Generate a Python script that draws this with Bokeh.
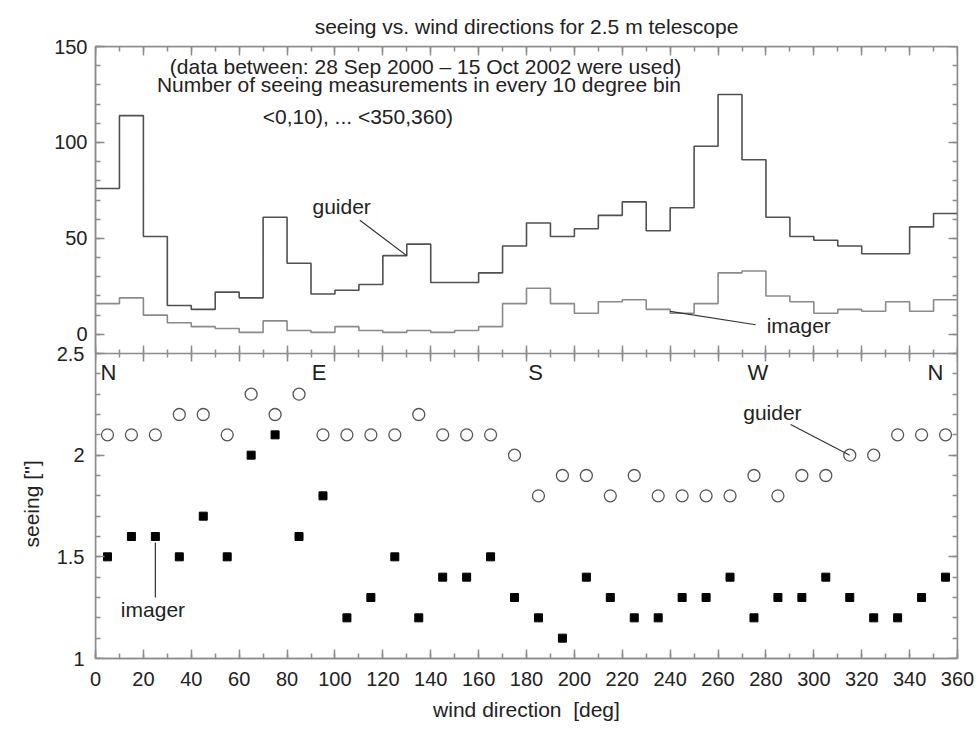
import numpy as np
from bokeh.plotting import figure
from bokeh.models import Range1d, LinearAxis, FixedTicker, Label, Title, CustomJSTickFormatter
from bokeh.embed import file_html
from bokeh.resources import INLINE

# ---------------- data ----------------
bin_left = list(range(0, 360, 10))          # 10-degree bins <0,10) ... <350,360)
bin_center = [b + 5 for b in bin_left]
guider_counts = [76, 114, 51, 15, 13, 22, 19, 61, 37, 21, 23, 26, 41, 47, 27, 27, 32, 46,
                 58, 51, 55, 62, 69, 54, 66, 98, 125, 91, 61, 51, 49, 46, 42, 42, 56, 63]
imager_counts = [16, 19, 10, 6, 4, 3, 1, 7, 2, 1, 4, 2, 1, 2, 1, 2, 4, 16,
                 24, 16, 11, 17, 18, 13, 11, 16, 32, 33, 20, 17, 11, 13, 12, 17, 12, 18]
guider_seeing = [2.1, 2.1, 2.1, 2.2, 2.2, 2.1, 2.3, 2.2, 2.3, 2.1, 2.1, 2.1, 2.1, 2.2, 2.1, 2.1, 2.1, 2.0,
                 1.8, 1.9, 1.9, 1.8, 1.9, 1.8, 1.8, 1.8, 1.8, 1.9, 1.8, 1.9, 1.9, 2.0, 2.0, 2.1, 2.1, 2.1]
imager_seeing = [1.5, 1.6, 1.6, 1.5, 1.7, 1.5, 2.0, 2.1, 1.6, 1.8, 1.2, 1.3, 1.5, 1.2, 1.4, 1.4, 1.5, 1.3,
                 1.2, 1.1, 1.4, 1.3, 1.2, 1.2, 1.3, 1.3, 1.4, 1.2, 1.3, 1.3, 1.4, 1.3, 1.2, 1.2, 1.3, 1.4]

dir_ticks = list(range(0, 361, 20))
dir_minor = list(range(0, 361, 10))
count_ticks = [0, 50, 100, 150]
count_minor = list(range(0, 151, 10))
seeing_ticks = [1, 1.5, 2, 2.5]
seeing_minor = [round(v, 1) for v in np.arange(1.0, 2.51, 0.1)]
compass_labels = ["N", "E", "S", "W", "N"]
compass_deg = [0, 90, 180, 270, 360]

# ---------------- style / geometry ----------------
FONT = "Liberation Sans"
AX = "#8c8c8c"
TXT = "#222222"
TOP_H, BOT_H = 307, 305                   # pixel heights of the two stacked panels
seeing_lo, seeing_hi = 1.0, 2.5
count_lo, count_hi = -10, 150
y_end = seeing_lo + (seeing_hi - seeing_lo) * (TOP_H + BOT_H) / BOT_H
count_start = count_lo - (count_hi - count_lo) * BOT_H / TOP_H

p = figure(width=975, height=729, output_backend="svg", toolbar_location=None,
           x_range=Range1d(0, 360), y_range=Range1d(seeing_lo, y_end),
           min_border_left=95, min_border_right=18, min_border_top=46, min_border_bottom=71,
           x_axis_type=None, y_axis_type=None,
           title="seeing vs. wind directions for 2.5 m telescope")
p.extra_y_ranges = {"top": Range1d(count_start, count_hi)}
p.outline_line_color = AX
p.outline_line_width = 1.5
p.background_fill_color = "white"
p.border_fill_color = "white"

p.title.text_font = FONT
p.title.text_font_size = "21px"
p.title.text_font_style = "normal"
p.title.text_color = TXT
p.title.align = "center"
p.title.standoff = 17

seeing_fmt = CustomJSTickFormatter(code="return tick.toString()")


def style_axis(ax, labels=True, major_in=9, major_out=0, minor_in=5, minor_out=0):
    ax.axis_line_color = AX
    ax.axis_line_width = 1.5
    ax.major_tick_line_color = AX
    ax.minor_tick_line_color = AX
    ax.major_tick_line_width = 1.5
    ax.minor_tick_line_width = 1.5
    ax.major_tick_in = major_in
    ax.major_tick_out = major_out
    ax.minor_tick_in = minor_in
    ax.minor_tick_out = minor_out
    ax.major_label_text_font = FONT
    ax.major_label_text_font_size = "20px"
    ax.major_label_text_color = TXT if labels else None
    ax.axis_label_text_font = FONT
    ax.axis_label_text_font_size = "21px"
    ax.axis_label_text_font_style = "normal"
    ax.axis_label_text_color = TXT
    return ax


# left, inner: counts of the upper panel (ticks + labels)
ax_l_count = LinearAxis(ticker=FixedTicker(ticks=count_ticks, minor_ticks=count_minor),
                        y_range_name="top", bounds=(count_lo, count_hi))
style_axis(ax_l_count)
ax_l_count.major_label_standoff = 8
p.add_layout(ax_l_count, "left")

# left, outer: labels of the seeing scale, pulled in next to the frame
ax_l_seeing_lab = LinearAxis(ticker=FixedTicker(ticks=seeing_ticks, minor_ticks=[]),
                             formatter=seeing_fmt, bounds=(seeing_lo, seeing_hi))
style_axis(ax_l_seeing_lab, major_in=0, minor_in=0)
ax_l_seeing_lab.axis_line_color = None
ax_l_seeing_lab.major_tick_line_color = None
ax_l_seeing_lab.minor_tick_line_color = None
ax_l_seeing_lab.major_label_standoff = -33
p.add_layout(ax_l_seeing_lab, "left")

# y title of the seeing panel
p.add_layout(Title(text="seeing ['']", align="left", offset=111, standoff=18,
                   text_font=FONT, text_font_size="21px", text_font_style="normal",
                   text_color=TXT), "left")

# left: seeing ticks on the frame edge
ax_l_seeing = LinearAxis(ticker=FixedTicker(ticks=seeing_ticks, minor_ticks=seeing_minor),
                         bounds=(seeing_lo, seeing_hi), fixed_location=0)
style_axis(ax_l_seeing, labels=False)
p.add_layout(ax_l_seeing, "left")

# right side ticks
ax_r_seeing = LinearAxis(ticker=FixedTicker(ticks=seeing_ticks, minor_ticks=seeing_minor),
                         bounds=(seeing_lo, seeing_hi), fixed_location=360)
style_axis(ax_r_seeing, labels=False)
p.add_layout(ax_r_seeing, "right")
ax_r_count = LinearAxis(ticker=FixedTicker(ticks=count_ticks, minor_ticks=count_minor),
                        y_range_name="top", bounds=(count_lo, count_hi), fixed_location=360)
style_axis(ax_r_count, labels=False)
p.add_layout(ax_r_count, "right")

# bottom: wind direction
ax_b = LinearAxis(ticker=FixedTicker(ticks=dir_ticks, minor_ticks=dir_minor),
                  axis_label="wind direction\u00a0 [deg]")
style_axis(ax_b)
ax_b.major_label_standoff = 13
ax_b.axis_label_standoff = 9
p.add_layout(ax_b, "below")

# top edge ticks
ax_t = LinearAxis(ticker=FixedTicker(ticks=dir_ticks, minor_ticks=dir_minor),
                  y_range_name="top", fixed_location=count_hi)
style_axis(ax_t, labels=False)
p.add_layout(ax_t, "above")

# shared middle line with ticks in both directions
ax_m = LinearAxis(ticker=FixedTicker(ticks=dir_ticks, minor_ticks=dir_minor),
                  fixed_location=seeing_hi)
style_axis(ax_m, labels=False, major_in=8, major_out=8, minor_in=4, minor_out=4)
p.add_layout(ax_m, "below")

# ---------------- top panel: histograms ----------------
edges = bin_left + [360]
p.step(x=edges, y=guider_counts + [guider_counts[-1]], mode="after", y_range_name="top",
       line_color="#505050", line_width=1.6)
p.step(x=edges, y=imager_counts + [imager_counts[-1]], mode="after", y_range_name="top",
       line_color="#8a8a8a", line_width=1.6)

# ---------------- bottom panel: seeing ----------------
p.scatter(bin_center, guider_seeing, marker="circle", size=12, fill_color=None,
          line_color="#555555", line_width=1.3)
p.scatter(bin_center, imager_seeing, marker="square", size=8, fill_color="black",
          line_color="black")


# ---------------- annotations ----------------
def label(x, y, text, size="21px", rng="default", align="center", xoff=0):
    p.add_layout(Label(x=x, y=y, text=text, y_range_name=rng, text_align=align,
                       text_baseline="middle", text_font=FONT, text_font_size=size,
                       text_color=TXT, x_offset=xoff))


label(137.8, 139.4, "(data between: 28 Sep 2000 \u2013 15 Oct 2002 were used)", rng="top")
label(135.1, 130.0, "Number of seeing measurements in every 10 degree bin", rng="top")
label(109.6, 113.5, "<0,10), ... <350,360)", rng="top")
label(102.8, 66.8, "guider", rng="top")
label(293.7, 4.5, "imager", rng="top")
label(282.7, 2.208, "guider")
label(24.0, 1.243, "imager")

for lab, deg, off in zip(compass_labels, compass_deg, [13, 8, 9, 16, -22]):
    label(deg, 2.405, lab, size="22px", xoff=off)

# leader lines (ending at the data they point to)
p.segment(x0=[110.4], y0=[59.4], x1=[bin_left[13]], y1=[guider_counts[12]],
          y_range_name="top", line_color="#333333", line_width=1.2)
p.segment(x0=[275.7], y0=[5.0], x1=[bin_left[24]], y1=[(imager_counts[23] + imager_counts[24]) / 2],
          y_range_name="top", line_color="#333333", line_width=1.2)
p.segment(x0=[290.3], y0=[2.151], x1=[bin_center[31]], y1=[guider_seeing[31]],
          line_color="#333333", line_width=1.2)
p.segment(x0=[bin_center[2]], y0=[imager_seeing[2] - 0.03], x1=[bin_center[2]], y1=[1.30],
          line_color="#333333", line_width=1.2)

open("out.html", "w").write(file_html(p, INLINE))
